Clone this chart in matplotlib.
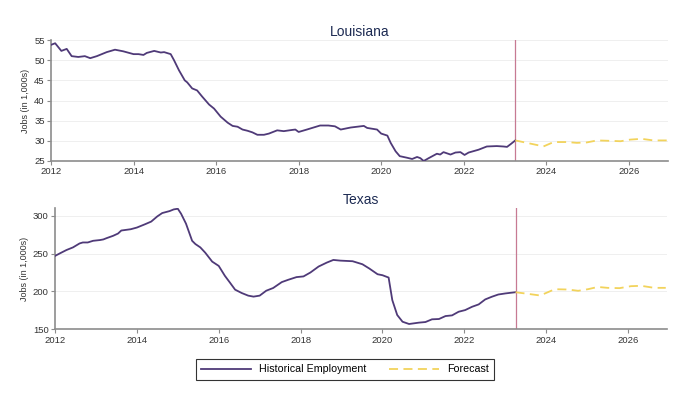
import numpy as np
import matplotlib
matplotlib.use('Agg')
import matplotlib.pyplot as plt
from matplotlib.lines import Line2D

# Louisiana historical (year, jobs in 1,000s)
la_year = [2012.0, 2012.1, 2012.25, 2012.38, 2012.5, 2012.66, 2012.82, 2012.95, 2013.11,
           2013.35, 2013.55, 2013.75, 2014.0, 2014.12, 2014.24, 2014.32, 2014.5, 2014.66,
           2014.74, 2014.9, 2014.98, 2015.1, 2015.24, 2015.3, 2015.42, 2015.54, 2015.66,
           2015.83, 2015.95, 2016.11, 2016.28, 2016.4, 2016.52, 2016.64, 2016.76, 2016.88,
           2017.0, 2017.16, 2017.28, 2017.48, 2017.64, 2017.84, 2017.92, 2018.0, 2018.2,
           2018.36, 2018.52, 2018.72, 2018.88, 2019.02, 2019.26, 2019.58, 2019.66, 2019.9,
           2020.0, 2020.15, 2020.23, 2020.35, 2020.45, 2020.63, 2020.75, 2020.87, 2020.95,
           2021.03, 2021.15, 2021.35, 2021.43, 2021.51, 2021.68, 2021.8, 2021.92, 2022.02,
           2022.12, 2022.36, 2022.56, 2022.8, 2022.96, 2023.05, 2023.14, 2023.25]
la_jobs = [53.8, 54.2, 52.3, 52.8, 51.0, 50.8, 51.0, 50.5, 51.0,
           52.0, 52.6, 52.2, 51.5, 51.5, 51.3, 51.8, 52.3, 51.9,
           52.0, 51.5, 50.0, 47.5, 45.0, 44.5, 43.0, 42.5, 41.0,
           39.0, 38.0, 36.0, 34.5, 33.7, 33.5, 32.8, 32.5, 32.1,
           31.5, 31.5, 31.8, 32.6, 32.4, 32.7, 32.8, 32.2, 32.8,
           33.3, 33.8, 33.8, 33.6, 32.8, 33.3, 33.7, 33.2, 32.8,
           31.8, 31.3, 29.5, 27.4, 26.2, 25.8, 25.5, 26.0, 25.7,
           25.0, 25.7, 26.8, 26.6, 27.2, 26.6, 27.1, 27.2, 26.5,
           27.1, 27.8, 28.6, 28.7, 28.6, 28.5, 29.2, 30.1]

# Louisiana forecast
la_fyear = [2023.25, 2023.53, 2023.85, 2023.93, 2024.18, 2024.5, 2024.74, 2024.98,
            2025.23, 2025.55, 2025.8, 2026.03, 2026.31, 2026.6, 2026.92]
la_fjobs = [30.1, 29.5, 28.8, 28.6, 29.7, 29.7, 29.5, 29.6,
            30.1, 30.0, 29.9, 30.3, 30.5, 30.1, 30.1]

# Texas historical
tx_year = [2012.0, 2012.12, 2012.28, 2012.44, 2012.6, 2012.68, 2012.8, 2012.93, 2013.1,
           2013.18, 2013.26, 2013.42, 2013.54, 2013.62, 2013.85, 2014.0, 2014.2, 2014.35,
           2014.5, 2014.62, 2014.8, 2014.9, 2015.0, 2015.08, 2015.2, 2015.35, 2015.43,
           2015.55, 2015.67, 2015.84, 2016.0, 2016.15, 2016.27, 2016.4, 2016.56, 2016.72,
           2016.85, 2017.0, 2017.16, 2017.33, 2017.54, 2017.7, 2017.9, 2018.07, 2018.24,
           2018.44, 2018.64, 2018.8, 2018.97, 2019.27, 2019.51, 2019.68, 2019.88, 2020.0,
           2020.15, 2020.24, 2020.36, 2020.49, 2020.65, 2020.77, 2020.89, 2021.05, 2021.21,
           2021.38, 2021.54, 2021.7, 2021.86, 2022.02, 2022.19, 2022.35, 2022.51, 2022.67,
           2022.83, 2023.0, 2023.12, 2023.25]
tx_jobs = [247.0, 250.4, 254.8, 258.3, 263.5, 264.8, 264.8, 267.0, 268.0,
           268.8, 270.5, 273.6, 276.6, 280.6, 282.3, 284.5, 288.9, 292.4,
           299.3, 303.7, 306.3, 308.5, 309.4, 302.8, 289.7, 267.0, 262.7,
           258.3, 251.3, 239.5, 233.8, 220.7, 212.0, 202.4, 198.0, 194.5,
           193.2, 194.5, 201.0, 204.6, 212.4, 215.5, 219.0, 219.9, 225.1,
           233.0, 238.2, 241.7, 240.8, 240.0, 236.0, 230.3, 222.8, 221.5,
           218.4, 188.6, 168.9, 160.0, 157.0, 157.9, 158.8, 159.6, 163.2,
           163.6, 167.5, 168.4, 173.2, 175.4, 179.8, 182.9, 189.5, 193.0,
           196.0, 197.4, 198.2, 199.0]

# Texas forecast
tx_fyear = [2023.25, 2023.48, 2023.85, 2023.97, 2024.21, 2024.53, 2024.78, 2025.02,
            2025.26, 2025.5, 2025.79, 2026.07, 2026.32, 2026.64, 2026.92]
tx_fjobs = [199.0, 197.4, 194.7, 197.4, 203.0, 202.6, 200.9, 203.0,
            206.0, 204.8, 204.4, 207.0, 207.5, 204.8, 204.8]

forecast_start = 2023.25
xticks = [2012, 2014, 2016, 2018, 2020, 2022, 2024, 2026]

hist_color = '#4f3a78'
fc_color = '#f2d35c'
vline_color = '#c77a93'
spine_color = '#8c8c8c'
title_color = '#1c2a52'

plt.rcParams['font.family'] = ['Liberation Sans', 'DejaVu Sans']

fig = plt.figure(figsize=(6.84, 3.99), dpi=100)
ax1 = fig.add_axes([0.0746, 0.5965, 0.9020, 0.3032])
ax2 = fig.add_axes([0.0804, 0.1747, 0.8947, 0.3033])

panels = [
    (ax1, 'Louisiana', la_year, la_jobs, la_fyear, la_fjobs, (25, 55), [25, 30, 35, 40, 45, 50, 55]),
    (ax2, 'Texas', tx_year, tx_jobs, tx_fyear, tx_fjobs, (150, 310), [150, 200, 250, 300]),
]

for ax, name, yr, jobs, fyr, fjobs, ylim, yticks in panels:
    ax.plot(yr, jobs, color=hist_color, lw=1.3, zorder=3)
    ax.plot(fyr, fjobs, color=fc_color, lw=1.3, ls=(0, (5, 3)), zorder=3)
    ax.axvline(forecast_start, color=vline_color, lw=0.9, zorder=2)
    ax.set_xlim(2012, 2026.95)
    ax.set_ylim(*ylim)
    ax.set_xticks(xticks)
    ax.set_yticks(yticks)
    ax.grid(True, axis='y', color='#efefef', lw=0.7, zorder=0)
    for s in ['top', 'right']:
        ax.spines[s].set_visible(False)
    for s in ['left', 'bottom']:
        ax.spines[s].set_color(spine_color)
        ax.spines[s].set_linewidth(1.2)
    ax.tick_params(axis='both', colors=spine_color, labelcolor='#333333',
                   labelsize=6.8, length=3, width=0.8, pad=1.5)
    ax.set_ylabel('Jobs (in 1,000s)', fontsize=6.5, color='#333333', labelpad=3)
    ax.set_title(name, fontsize=10, color=title_color, pad=3)

handles = [Line2D([], [], color=hist_color, lw=1.3),
           Line2D([], [], color=fc_color, lw=1.3, ls=(0, (5, 3)))]
leg = fig.legend(handles, ['Historical Employment', 'Forecast'], loc='center',
                 bbox_to_anchor=(0.5044, 0.074), ncol=2, fontsize=7.7,
                 frameon=True, fancybox=False, edgecolor='black',
                 handlelength=4.7, columnspacing=2.1, handletextpad=0.75,
                 borderpad=0.5)
leg.get_frame().set_linewidth(0.8)

fig.savefig('out.png', dpi=100)
